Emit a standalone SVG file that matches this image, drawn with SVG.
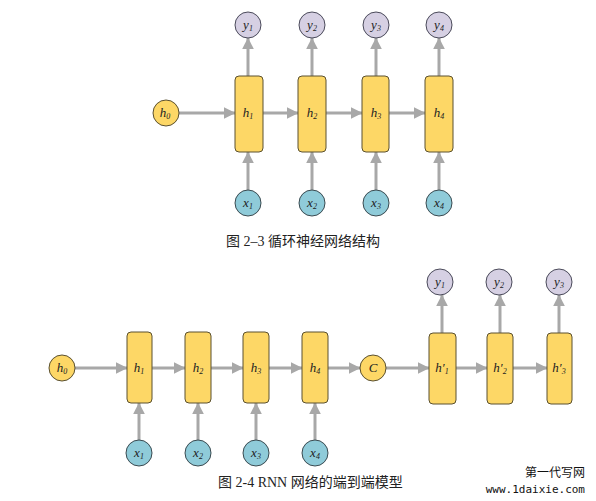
<svg xmlns="http://www.w3.org/2000/svg" width="596" height="501" viewBox="0 0 596 501">
<style>
.h{fill:#fdd766;stroke:#5a5030;stroke-width:1}
.y{fill:#d6d0e3;stroke:#4a4a5a;stroke-width:1}
.x{fill:#8fcbd9;stroke:#3a4a50;stroke-width:1}
.c{stroke:#a8a8a8;stroke-width:3;fill:none;marker-end:url(#ah)}
.t{font-family:"Liberation Serif",serif;font-style:italic;font-size:13px;fill:#222;text-anchor:middle}
.s{font-size:8px}
.cap{font-family:"Liberation Serif","Noto Sans CJK SC",serif;font-size:14px;fill:#222}
</style>
<defs>
<marker id="ah" markerWidth="4" markerHeight="4" refX="3.8" refY="2" orient="auto" markerUnits="strokeWidth">
<path d="M0,0 L4,2 L0,4 Z" fill="#a8a8a8"/>
</marker>
</defs>
<rect width="596" height="501" fill="#fff"/>
<g id="connectors">
<line class="c" x1="179" y1="113" x2="235" y2="113"/>
<line class="c" x1="263" y1="113" x2="298" y2="113"/>
<line class="c" x1="326" y1="113" x2="362" y2="113"/>
<line class="c" x1="389" y1="113" x2="425" y2="113"/>
<line class="c" x1="248" y1="76" x2="248" y2="38"/>
<line class="c" x1="312" y1="76" x2="312" y2="38"/>
<line class="c" x1="376" y1="76" x2="376" y2="38"/>
<line class="c" x1="439" y1="76" x2="439" y2="38"/>
<line class="c" x1="248" y1="190" x2="248" y2="152"/>
<line class="c" x1="312" y1="190" x2="312" y2="152"/>
<line class="c" x1="376" y1="190" x2="376" y2="152"/>
<line class="c" x1="439" y1="190" x2="439" y2="152"/>
<line class="c" x1="75" y1="368" x2="127" y2="368"/>
<line class="c" x1="152" y1="368" x2="185" y2="368"/>
<line class="c" x1="211" y1="368" x2="243" y2="368"/>
<line class="c" x1="269" y1="368" x2="302" y2="368"/>
<line class="c" x1="328" y1="368" x2="360" y2="368"/>
<line class="c" x1="386" y1="368" x2="429" y2="368"/>
<line class="c" x1="456" y1="368" x2="487" y2="368"/>
<line class="c" x1="513" y1="368" x2="547" y2="368"/>
<line class="c" x1="139" y1="440" x2="139" y2="403"/>
<line class="c" x1="198" y1="440" x2="198" y2="403"/>
<line class="c" x1="256" y1="440" x2="256" y2="403"/>
<line class="c" x1="315" y1="440" x2="315" y2="403"/>
<line class="c" x1="442" y1="333" x2="442" y2="295"/>
<line class="c" x1="500" y1="333" x2="500" y2="295"/>
<line class="c" x1="559" y1="333" x2="559" y2="295"/>
</g>
<g id="top-h0"><circle class="h" cx="166" cy="113" r="13"/><text class="t" x="165" y="117">h<tspan class="s" dy="2">0</tspan></text></g>
<g id="top-h1"><rect class="h" x="235" y="76" width="28" height="76" rx="4"/><text class="t" x="248" y="117">h<tspan class="s" dy="2">1</tspan></text></g>
<g id="top-h2"><rect class="h" x="298" y="76" width="28" height="76" rx="4"/><text class="t" x="312" y="117">h<tspan class="s" dy="2">2</tspan></text></g>
<g id="top-h3"><rect class="h" x="362" y="76" width="27" height="76" rx="4"/><text class="t" x="376" y="117">h<tspan class="s" dy="2">3</tspan></text></g>
<g id="top-h4"><rect class="h" x="425" y="76" width="28" height="76" rx="4"/><text class="t" x="439" y="117">h<tspan class="s" dy="2">4</tspan></text></g>
<g id="top-y1"><circle class="y" cx="248" cy="25" r="13"/><text class="t" x="248" y="29">y<tspan class="s" dy="2">1</tspan></text></g>
<g id="top-y2"><circle class="y" cx="312" cy="25" r="13"/><text class="t" x="312" y="29">y<tspan class="s" dy="2">2</tspan></text></g>
<g id="top-y3"><circle class="y" cx="376" cy="25" r="13"/><text class="t" x="376" y="29">y<tspan class="s" dy="2">3</tspan></text></g>
<g id="top-y4"><circle class="y" cx="439" cy="25" r="13"/><text class="t" x="439" y="29">y<tspan class="s" dy="2">4</tspan></text></g>
<g id="top-x1"><circle class="x" cx="248" cy="203" r="13"/><text class="t" x="248" y="207">x<tspan class="s" dy="2">1</tspan></text></g>
<g id="top-x2"><circle class="x" cx="312" cy="203" r="13"/><text class="t" x="312" y="207">x<tspan class="s" dy="2">2</tspan></text></g>
<g id="top-x3"><circle class="x" cx="376" cy="203" r="13"/><text class="t" x="376" y="207">x<tspan class="s" dy="2">3</tspan></text></g>
<g id="top-x4"><circle class="x" cx="439" cy="203" r="13"/><text class="t" x="439" y="207">x<tspan class="s" dy="2">4</tspan></text></g>
<text class="cap" x="226" y="246">图 2–3  循环神经网络结构</text>

<g id="bot-h0"><circle class="h" cx="62" cy="368" r="13"/><text class="t" x="62" y="372">h<tspan class="s" dy="2">0</tspan></text></g>
<g id="bot-h1"><rect class="h" x="127" y="332" width="25" height="71" rx="4"/><text class="t" x="139" y="372">h<tspan class="s" dy="2">1</tspan></text></g>
<g id="bot-h2"><rect class="h" x="185" y="332" width="26" height="71" rx="4"/><text class="t" x="198" y="372">h<tspan class="s" dy="2">2</tspan></text></g>
<g id="bot-h3"><rect class="h" x="243" y="332" width="26" height="71" rx="4"/><text class="t" x="256" y="372">h<tspan class="s" dy="2">3</tspan></text></g>
<g id="bot-h4"><rect class="h" x="302" y="332" width="26" height="71" rx="4"/><text class="t" x="315" y="372">h<tspan class="s" dy="2">4</tspan></text></g>
<g id="bot-C"><circle class="h" cx="373" cy="368" r="13"/><text class="t" x="373" y="372">C</text></g>
<g id="bot-hp1"><rect class="h" x="429" y="333" width="27" height="71" rx="4"/><text class="t" x="442" y="372">h′<tspan class="s" dy="2">1</tspan></text></g>
<g id="bot-hp2"><rect class="h" x="487" y="333" width="26" height="71" rx="4"/><text class="t" x="500" y="372">h′<tspan class="s" dy="2">2</tspan></text></g>
<g id="bot-hp3"><rect class="h" x="547" y="333" width="25" height="71" rx="4"/><text class="t" x="559" y="372">h′<tspan class="s" dy="2">3</tspan></text></g>
<g id="bot-y1"><circle class="y" cx="440" cy="282" r="13"/><text class="t" x="440" y="286">y<tspan class="s" dy="2">1</tspan></text></g>
<g id="bot-y2"><circle class="y" cx="499" cy="282" r="13"/><text class="t" x="499" y="286">y<tspan class="s" dy="2">2</tspan></text></g>
<g id="bot-y3"><circle class="y" cx="559" cy="282" r="13"/><text class="t" x="559" y="286">y<tspan class="s" dy="2">3</tspan></text></g>
<g id="bot-x1"><circle class="x" cx="139" cy="453" r="13"/><text class="t" x="139" y="457">x<tspan class="s" dy="2">1</tspan></text></g>
<g id="bot-x2"><circle class="x" cx="198" cy="453" r="13"/><text class="t" x="198" y="457">x<tspan class="s" dy="2">2</tspan></text></g>
<g id="bot-x3"><circle class="x" cx="256" cy="453" r="13"/><text class="t" x="256" y="457">x<tspan class="s" dy="2">3</tspan></text></g>
<g id="bot-x4"><circle class="x" cx="315" cy="453" r="13"/><text class="t" x="315" y="457">x<tspan class="s" dy="2">4</tspan></text></g>
<text class="cap" x="218" y="487">图 2-4 RNN 网络的端到端模型</text>
<text x="585" y="477" font-family="'Noto Sans CJK SC',sans-serif" font-size="12" fill="#111" text-anchor="end">第一代写网</text>
<text x="585" y="493" font-family="'DejaVu Sans Mono',monospace" font-size="11" fill="#111" text-anchor="end">www.1daixie.com</text>
</svg>
